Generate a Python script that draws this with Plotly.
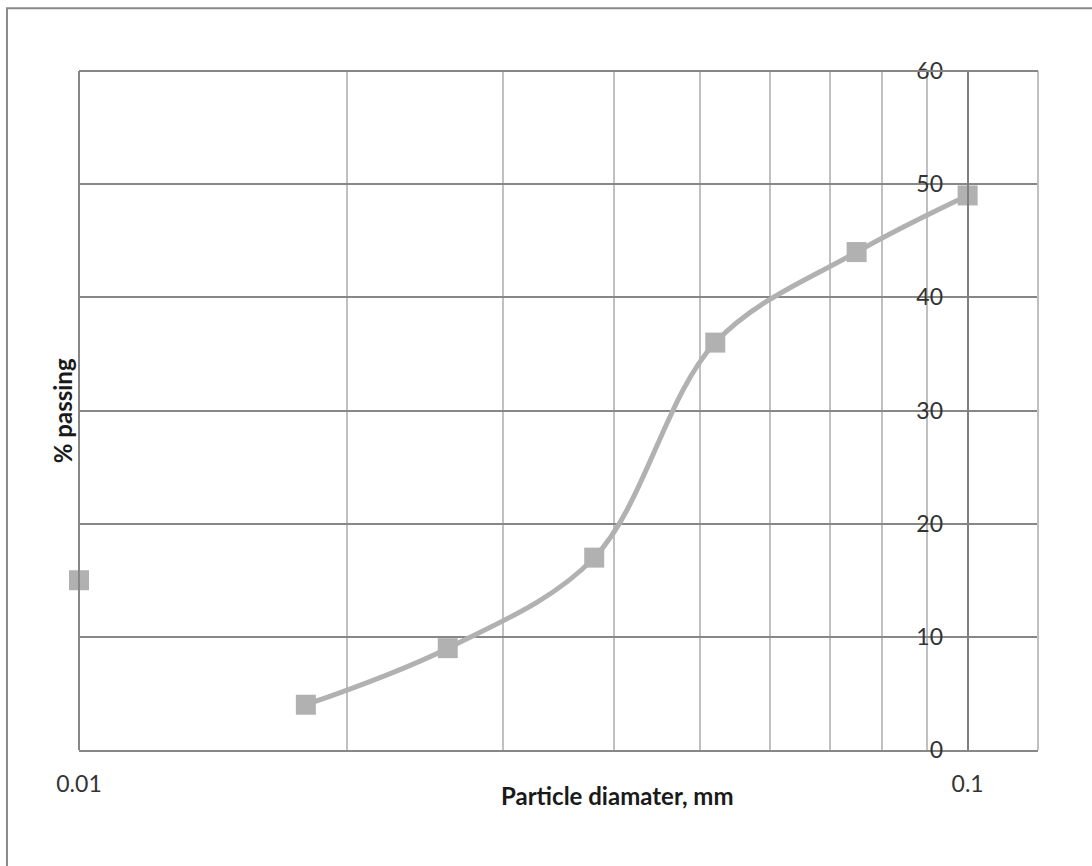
import math
import plotly.graph_objects as go

# Data
diam_mm = [0.018, 0.026, 0.038, 0.052, 0.075, 0.1]
pct_passing = [4, 9, 17, 36, 44, 49]
isolated_diam = [0.01]
isolated_pct = [15]

x_tickvals = [0.01, 0.1]
x_ticktext = ["0.01", "0.1"]
x_minor_vals = [0.02, 0.03, 0.04, 0.05, 0.06, 0.07, 0.08, 0.09]
y_tickvals = [0, 10, 20, 30, 40, 50, 60]

X_MIN, X_MAX = 0.01, 0.12
FONT = "Lato"
SERIES = "#b1b1b1"
DARK = "#878787"
LIGHT = "#c0c0c0"

fig = go.Figure()
fig.add_trace(go.Scatter(
    x=diam_mm, y=pct_passing, mode="lines+markers",
    line=dict(color=SERIES, width=5, shape="spline", smoothing=1.0),
    marker=dict(symbol="square", size=20, color=SERIES),
    cliponaxis=False, showlegend=False,
))
fig.add_trace(go.Scatter(
    x=isolated_diam, y=isolated_pct, mode="markers",
    marker=dict(symbol="square", size=20, color=SERIES),
    cliponaxis=False, showlegend=False,
))

lo, hi = math.log10(X_MIN), math.log10(X_MAX)
ypos = (math.log10(0.1) - lo) / (hi - lo)

fig.update_layout(
    width=1092, height=866,
    margin=dict(l=79, r=54, t=71, b=116),
    paper_bgcolor="white", plot_bgcolor="white",
    font=dict(family=FONT, size=23, color="#333333"),
    xaxis=dict(
        type="log", range=[lo, hi],
        tickvals=x_tickvals, ticktext=x_ticktext,
        ticks="", showgrid=True, gridcolor=DARK, gridwidth=2,
        minor=dict(tickvals=x_minor_vals, showgrid=True, gridcolor=LIGHT, gridwidth=2, ticks=""),
        showline=True, linecolor=DARK, linewidth=2,
        zeroline=False, ticklabelstandoff=12,
        tickfont=dict(size=23, color="#333333"),
    ),
    yaxis=dict(
        range=[0, 60], tickvals=y_tickvals,
        anchor="free", position=ypos, side="left",
        ticks="", showgrid=True, gridcolor=DARK, gridwidth=2,
        showline=True, linecolor="#7f7f7f", linewidth=2,
        zeroline=False, ticklabelstandoff=19,
        tickfont=dict(size=23, color="#333333"),
    ),
    shapes=[
        dict(type="line", xref="paper", yref="paper", x0=1, x1=1, y0=0, y1=1,
             line=dict(color=LIGHT, width=2)),
        dict(type="line", xref="paper", yref="paper", x0=0, x1=0, y0=0, y1=1,
             line=dict(color=DARK, width=2)),
        dict(type="line", xref="paper", yref="paper", x0=0, x1=1, y0=1, y1=1,
             line=dict(color=DARK, width=2)),
        dict(type="rect", xref="paper", yref="paper", x0=-0.0751, x1=1.2, y0=-0.3, y1=1.0923,
             line=dict(color="#8a8a8a", width=2), layer="below"),
    ],
    annotations=[
        dict(text="<b>Particle diamater, mm</b>", xref="paper", yref="paper",
             x=(617 - 79) / 959, y=(750 - 796) / 679.3, showarrow=False,
             xanchor="center", yanchor="middle",
             font=dict(family=FONT, size=24, color="#1a1a1a")),
        dict(text="<b>% passing</b>", xref="paper", yref="paper",
             x=(62 - 79) / 959, y=(750 - 411) / 679.3, showarrow=False, textangle=-90,
             xanchor="center", yanchor="middle",
             font=dict(family=FONT, size=24, color="#1a1a1a")),
    ],
)

fig.write_html("out.html")
